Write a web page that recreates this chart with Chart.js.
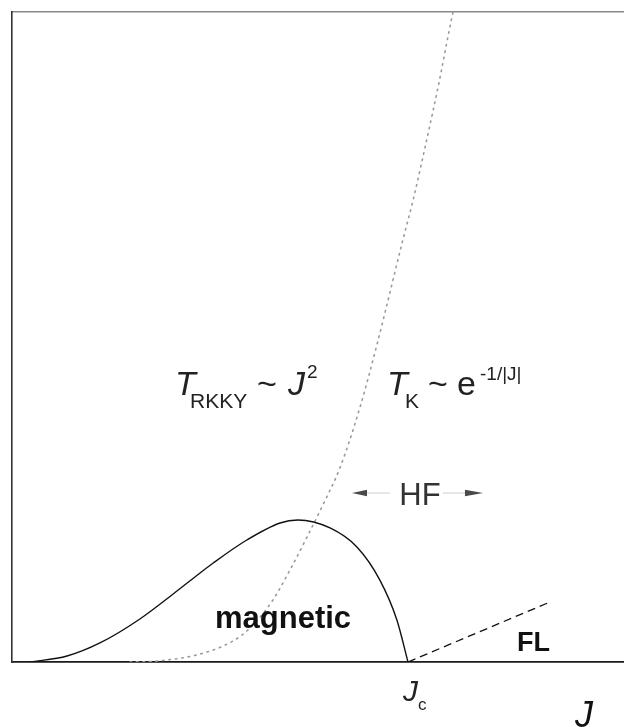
<!DOCTYPE html>
<html>
<head>
<meta charset="utf-8">
<script src="https://cdn.jsdelivr.net/npm/chart.js@4/dist/chart.umd.min.js"></script>
<style>
  html, body { margin: 0; padding: 0; background: #fff; }
  canvas { display: block; }
</style>
</head>
<body>
<canvas id="c" width="624" height="727"></canvas>
<script>
// Doniach phase diagram.
// J: coupling in units of the critical coupling Jc; T: temperature in units of the peak ordering temperature.
const tnJ = [0.045, 0.139, 0.222, 0.323, 0.407, 0.475, 0.508, 0.593, 0.677, 0.722, 0.803, 0.871, 0.929, 0.972, 1.0];
const tnT = [0, 0.042, 0.134, 0.303, 0.479, 0.627, 0.697, 0.859, 0.979, 1.0, 0.944, 0.810, 0.577, 0.296, 0];

// Kondo scale T_K ~ exp(-1/|J|)
const tkJ = [0.298, 0.366, 0.475, 0.558, 0.601, 0.659, 0.702, 0.745, 0.785, 0.828, 0.879, 0.922, 0.987, 1.013, 1.051, 1.076, 1.111, 1.119];
const tkT = [0, 0.007, 0.056, 0.148, 0.239, 0.437, 0.648, 0.880, 1.106, 1.366, 1.796, 2.239, 2.972, 3.254, 3.725, 4.049, 4.542, 4.641];

// Fermi-liquid crossover above Jc
const flJ = [1.0, 1.359];
const flT = [0, 0.423];

// Axis extents
const jRange = [0, 1.5455];
const tRange = [0, 4.5775];

const pts = (xs, ys) => xs.map((x, i) => ({ x: x, y: ys[i] }));

const FONT = '"Liberation Sans", Arial, Helvetica, sans-serif';

// Draw a row of text runs; each run is offset from the anchor (dx, dy in px).
function drawRuns(ctx, x0, y0, runs, color) {
  ctx.fillStyle = color;
  ctx.textBaseline = 'alphabetic';
  ctx.textAlign = 'left';
  runs.forEach(r => {
    ctx.font = r.font;
    ctx.fillText(r.text, x0 + r.dx, y0 + (r.dy || 0));
  });
}

const labelPlugin = {
  id: 'phaseLabels',
  afterDatasetsDraw(chart) {
    const ctx = chart.ctx;
    const xs = chart.scales.x, ys = chart.scales.y;
    const px = v => xs.getPixelForValue(v);
    const py = v => ys.getPixelForValue(v);
    const bottom = chart.chartArea.bottom;
    ctx.save();

    // region labels
    ctx.fillStyle = '#111';
    ctx.font = 'bold 31px ' + FONT;
    ctx.fillText('magnetic', px(0.5126), py(0.2394));
    ctx.font = 'bold 27px ' + FONT;
    ctx.fillText('FL', px(1.2753), py(0.0775));

    // T_RKKY ~ J^2
    drawRuns(ctx, px(0.4116), py(1.8803), [
      { text: 'T', font: 'italic 34px ' + FONT, dx: 0 },
      { text: 'RKKY', font: '21px ' + FONT, dx: 15, dy: 13 },
      { text: '~', font: '34px ' + FONT, dx: 82 },
      { text: 'J', font: 'italic 34px ' + FONT, dx: 113 },
      { text: '2', font: '19px ' + FONT, dx: 132, dy: -17 }
    ], '#222');

    // T_K ~ e^{-1/|J|}
    drawRuns(ctx, px(0.947), py(1.8803), [
      { text: 'T', font: 'italic 34px ' + FONT, dx: 0 },
      { text: 'K', font: '21px ' + FONT, dx: 18, dy: 13 },
      { text: '~', font: '34px ' + FONT, dx: 41 },
      { text: 'e', font: '34px ' + FONT, dx: 70 },
      { text: '-1/|J|', font: '19px ' + FONT, dx: 93, dy: -15 }
    ], '#222');

    // heavy-fermion regime with arrows
    ctx.fillStyle = '#333';
    ctx.font = '31px ' + FONT;
    ctx.textAlign = 'center';
    ctx.fillText('HF', px(1.0303), py(1.1056));
    ctx.textAlign = 'left';
    const ay = py(1.19);
    ctx.strokeStyle = '#cfcfcf';
    ctx.lineWidth = 1;
    ctx.beginPath();
    ctx.moveTo(px(0.8965), ay); ctx.lineTo(px(0.9545), ay);
    ctx.moveTo(px(1.0884), ay); ctx.lineTo(px(1.1439), ay);
    ctx.stroke();
    ctx.fillStyle = '#4a4a4a';
    ctx.beginPath();
    ctx.moveTo(px(0.8586), ay); ctx.lineTo(px(0.8965), ay - 3.2); ctx.lineTo(px(0.8965), ay + 3.2); ctx.closePath();
    ctx.moveTo(px(1.1894), ay); ctx.lineTo(px(1.1439), ay - 3.2); ctx.lineTo(px(1.1439), ay + 3.2); ctx.closePath();
    ctx.fill();

    // axis annotations below the J axis
    drawRuns(ctx, px(1.0) - 5, bottom + 39, [
      { text: 'J', font: 'italic 30px ' + FONT, dx: 0 },
      { text: 'c', font: '17px ' + FONT, dx: 15, dy: 9 }
    ], '#222');
    drawRuns(ctx, px(1.4217), bottom + 65, [
      { text: 'J', font: 'italic 36px ' + FONT, dx: 0 }
    ], '#111');

    ctx.restore();
  }
};

new Chart(document.getElementById('c'), {
  type: 'scatter',
  data: {
    datasets: [
      {
        label: 'T_N',
        data: pts(tnJ, tnT),
        showLine: true,
        cubicInterpolationMode: 'monotone',
        borderColor: '#111',
        borderWidth: 1.4,
        pointRadius: 0,
        fill: false
      },
      {
        label: 'T_K',
        data: pts(tkJ, tkT),
        showLine: true,
        cubicInterpolationMode: 'monotone',
        borderColor: '#9a9a9a',
        borderWidth: 1.6,
        borderDash: [1.5, 5],
        borderCapStyle: 'round',
        pointRadius: 0,
        fill: false
      },
      {
        label: 'FL',
        data: pts(flJ, flT),
        showLine: true,
        borderColor: '#111',
        borderWidth: 1.3,
        borderDash: [8, 5],
        pointRadius: 0,
        fill: false
      }
    ]
  },
  options: {
    responsive: false,
    devicePixelRatio: 1,
    animation: false,
    layout: { padding: { left: 12, top: 12, right: 0, bottom: 65 } },
    plugins: { legend: { display: false }, tooltip: { enabled: false } },
    scales: {
      x: {
        type: 'linear', position: 'bottom', min: jRange[0], max: jRange[1],
        grid: { display: false, drawTicks: false, tickLength: 0 },
        ticks: { display: false },
        border: { display: true, color: '#1a1a1a', width: 1.8 }
      },
      xTop: {
        type: 'linear', position: 'top', min: jRange[0], max: jRange[1],
        grid: { display: false, drawTicks: false, tickLength: 0 },
        ticks: { display: false },
        border: { display: true, color: '#8a8a8a', width: 1.5 }
      },
      y: {
        type: 'linear', position: 'left', min: tRange[0], max: tRange[1],
        grid: { display: false, drawTicks: false, tickLength: 0 },
        ticks: { display: false },
        border: { display: true, color: '#333', width: 1.6 }
      }
    }
  },
  plugins: [labelPlugin]
});
</script>
</body>
</html>
